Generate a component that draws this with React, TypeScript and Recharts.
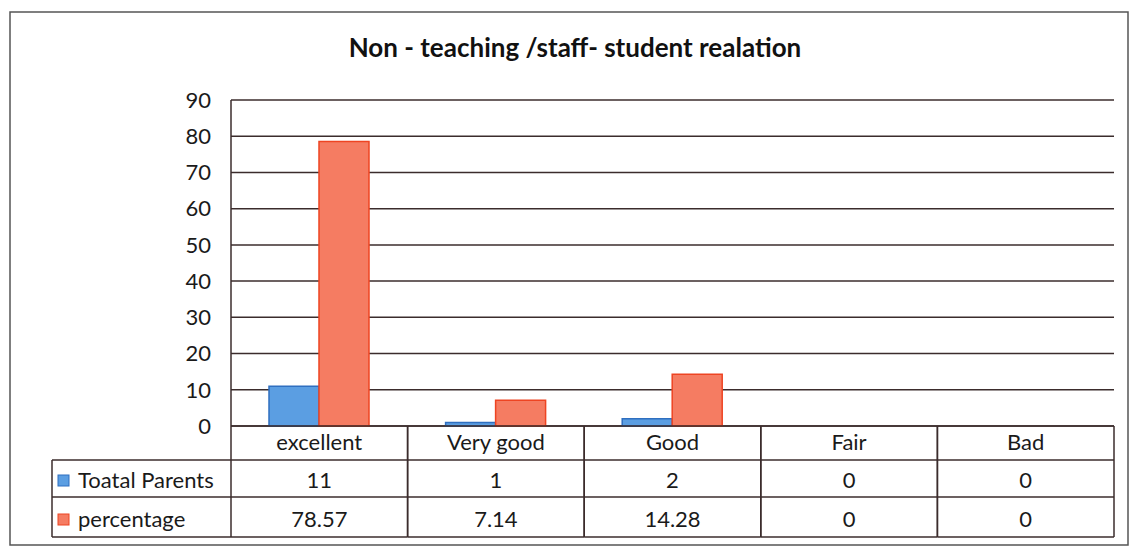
import React from "react";
import { BarChart, Bar, XAxis, YAxis, CartesianGrid } from "recharts";

const categories = ["excellent", "Very good", "Good", "Fair", "Bad"];
const totalParents = [11, 1, 2, 0, 0];
const percentage = [78.57, 7.14, 14.28, 0, 0];
const percentageLabels = ["78.57", "7.14", "14.28", "0", "0"];
const yTicks = [0, 10, 20, 30, 40, 50, 60, 70, 80, 90];
const seriesNames = ["Toatal Parents", "percentage"];

const data = categories.map((c, i) => ({
  name: c,
  parents: totalParents[i],
  pct: percentage[i],
  pctLabel: percentageLabels[i],
}));

const W = 1136;
const H = 550;
const PLOT_LEFT = 231;
const PLOT_RIGHT = 1114;
const COL_W = (PLOT_RIGHT - PLOT_LEFT) / categories.length;
const LEGEND_LEFT = 52;
const FONT = "Lato, 'Open Sans', sans-serif";
const LINE = "#3b2c2c";
const BLUE = "#5b9ee2";
const BLUE_STROKE = "#2f6fc0";
const RED = "#f57c62";
const RED_STROKE = "#ee4422";
const ROW1 = 34;
const ROW2 = 71;
const ROW3 = 111;

const TableTick = (props: any) => {
  const { x, y, payload } = props;
  const i = payload.index;
  const d = data[i];
  const l = x - COL_W / 2;
  const r = x + COL_W / 2;
  const ts = { fontFamily: FONT, fontSize: 22, fill: "#1a1a1a" } as any;
  return (
    <g>
      <line x1={l} y1={y} x2={l} y2={y + ROW3} stroke={LINE} strokeWidth={1.5} />
      <line x1={r} y1={y} x2={r} y2={y + ROW3} stroke={LINE} strokeWidth={1.5} />
      <line x1={l} y1={y + ROW1} x2={r} y2={y + ROW1} stroke={LINE} strokeWidth={1.5} />
      <line x1={l} y1={y + ROW2} x2={r} y2={y + ROW2} stroke={LINE} strokeWidth={1.5} />
      <line x1={l} y1={y + ROW3} x2={r} y2={y + ROW3} stroke={LINE} strokeWidth={1.5} />
      <text x={x} y={y + 24} textAnchor="middle" {...ts}>{d.name}</text>
      <text x={x} y={y + 62} textAnchor="middle" {...ts}>{String(d.parents)}</text>
      <text x={x} y={y + 101} textAnchor="middle" {...ts}>{d.pctLabel}</text>
      {i === 0 && (
        <g>
          <line x1={LEGEND_LEFT} y1={y + ROW1} x2={l} y2={y + ROW1} stroke={LINE} strokeWidth={1.5} />
          <line x1={LEGEND_LEFT} y1={y + ROW2} x2={l} y2={y + ROW2} stroke={LINE} strokeWidth={1.5} />
          <line x1={LEGEND_LEFT} y1={y + ROW3} x2={l} y2={y + ROW3} stroke={LINE} strokeWidth={1.5} />
          <line x1={LEGEND_LEFT} y1={y + ROW1} x2={LEGEND_LEFT} y2={y + ROW3} stroke={LINE} strokeWidth={1.5} />
          <rect x={LEGEND_LEFT + 6} y={y + 49} width={11} height={11} fill={BLUE} stroke={BLUE_STROKE} />
          <text x={LEGEND_LEFT + 26} y={y + 62} textAnchor="start" {...ts}>{seriesNames[0]}</text>
          <rect x={LEGEND_LEFT + 6} y={y + 88} width={11} height={11} fill={RED} stroke={RED_STROKE} />
          <text x={LEGEND_LEFT + 26} y={y + 101} textAnchor="start" {...ts}>{seriesNames[1]}</text>
        </g>
      )}
    </g>
  );
};

export default function App() {
  return (
    <div style={{ position: "absolute", left: 0, top: 0, width: W, height: H, background: "#ffffff" }}>
      <svg width={W} height={H} style={{ position: "absolute", left: 0, top: 0 }}>
        <rect x={10} y={12} width={1118} height={533} fill="#ffffff" stroke="#555" strokeWidth={1.5} />
      </svg>
      <div
        style={{
          position: "absolute",
          left: 0,
          top: 31,
          width: W,
          textAlign: "center",
          fontFamily: FONT,
          fontWeight: 700,
          fontSize: 26,
          color: "#111",
          paddingLeft: 14,
          boxSizing: "border-box",
        }}
      >
        Non - teaching /staff- student realation
      </div>
      <div style={{ position: "absolute", left: 0, top: 0 }}>
        <BarChart
          width={W}
          height={H}
          data={data}
          margin={{ top: 100, right: W - PLOT_RIGHT, bottom: 13, left: PLOT_LEFT - 60 }}
          barGap={0}
          barSize={50}
        >
          <CartesianGrid vertical={false} stroke={LINE} strokeWidth={1.5} />
          <XAxis
            dataKey="name"
            height={111}
            tickLine={false}
            tickSize={0}
            tickMargin={0}
            axisLine={{ stroke: LINE, strokeWidth: 1.5 }}
            interval={0}
            tick={<TableTick />}
          />
          <YAxis
            width={60}
            domain={[0, 90]}
            ticks={yTicks}
            interval={0}
            tickLine={false}
            tickSize={0}
            tickMargin={20}
            axisLine={{ stroke: LINE, strokeWidth: 1.5 }}
            tick={{ fontFamily: FONT, fontSize: 22, fill: "#1a1a1a" }}
          />
          <Bar dataKey="parents" name={seriesNames[0]} fill={BLUE} stroke={BLUE_STROKE} strokeWidth={1.5} isAnimationActive={false} />
          <Bar dataKey="pct" name={seriesNames[1]} fill={RED} stroke={RED_STROKE} strokeWidth={1.5} isAnimationActive={false} />
        </BarChart>
      </div>
    </div>
  );
}
